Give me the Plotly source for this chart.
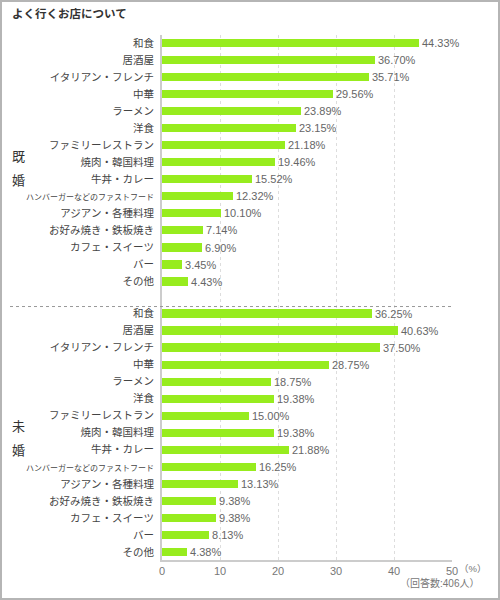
import plotly.graph_objects as go

categories = ["和食", "居酒屋", "イタリアン・フレンチ", "中華", "ラーメン", "洋食",
              "ファミリーレストラン", "焼肉・韓国料理", "牛丼・カレー",
              "ハンバーガーなどのファストフード", "アジアン・各種料理",
              "お好み焼き・鉄板焼き", "カフェ・スイーツ", "バー", "その他"]
married = [44.33, 36.70, 35.71, 29.56, 23.89, 23.15, 21.18, 19.46, 15.52,
           12.32, 10.10, 7.14, 6.90, 3.45, 4.43]
unmarried = [36.25, 40.63, 37.50, 28.75, 18.75, 19.38, 15.00, 19.38, 21.88,
             16.25, 13.13, 9.38, 9.38, 8.13, 4.38]
x_ticks = [0, 10, 20, 30, 40, 50]
title = "よく行くお店について"
group_labels = [["既", "婚"], ["未", "婚"]]
note = "（回答数:406人）"

GAP = 15.88
n = len(categories)
y1 = list(range(n))
y2 = [GAP + i for i in range(n)]

FONT = "Liberation Sans, Arial, Noto Sans CJK JP, sans-serif"
GREEN = "#97EC1E"

def lab(c):
    if len(c) > 12:
        return '<span style="font-size:8px">' + c + '</span>'
    return c

fig = go.Figure()
for ys, vals in [(y1, married), (y2, unmarried)]:
    fig.add_trace(go.Bar(
        x=vals, y=ys, orientation="h", width=0.48,
        marker=dict(color=GREEN, line=dict(width=0)),
        texttemplate="%{x:.2f}%", textposition="outside",
        constraintext="none",
        textfont=dict(size=11, color="#666666", family=FONT),
        cliponaxis=False, showlegend=False, hoverinfo="skip",
    ))

fig.update_layout(
    width=500, height=600,
    margin=dict(l=162, r=48, t=35, b=40, autoexpand=False),
    paper_bgcolor="white", plot_bgcolor="white",
    font=dict(family=FONT, size=10.5, color="#333333"),
    bargap=0,
)
fig.update_xaxes(
    range=[0, 50], tickvals=x_ticks, ticktext=[str(v) for v in x_ticks],
    showgrid=True, gridcolor="#dddddd", griddash="dot", gridwidth=1,
    zeroline=False, showline=True, linecolor="#cccccc", linewidth=2,
    tickfont=dict(size=11, color="#777777"), ticks="", automargin=False,
)
fig.update_yaxes(
    range=[GAP + n - 1 + 0.47, -0.47],
    tickvals=y1 + y2, ticktext=[lab(c) for c in categories] * 2,
    showgrid=False, zeroline=False, showline=True, linecolor="#cccccc",
    linewidth=2, ticks="", ticklabelstandoff=4, automargin=False,
    tickfont=dict(size=10.5, color="#444444"),
)

# title
fig.add_annotation(text="<b>" + title + "</b>", xref="paper", yref="paper",
                   x=-152 / 290, y=1 + 22 / 525, xanchor="left", yanchor="middle",
                   showarrow=False, font=dict(size=11.5, color="#333333"))
# group labels
for g, (a, b) in enumerate(group_labels):
    center = (0 if g == 0 else GAP) + 7.35
    for ch, off in [(a, -0.7), (b, 0.7)]:
        fig.add_annotation(text=ch, xref="paper", yref="y", x=-144 / 290,
                           y=center + off, xanchor="center", yanchor="middle",
                           showarrow=False, font=dict(size=13, color="#333333"))
# separator
fig.add_shape(type="line", xref="paper", yref="y", x0=-152 / 290, x1=1,
              y0=GAP - 0.41, y1=GAP - 0.41,
              line=dict(color="#999999", width=1, dash="dot"))
# units
fig.add_annotation(text="（%）", xref="paper", yref="paper", x=1 + 5 / 290,
                   y=-8 / 525, xanchor="left", yanchor="middle", showarrow=False,
                   font=dict(size=9.5, color="#777777"))
fig.add_annotation(text=note, xref="paper", yref="paper", x=1 + 29 / 290,
                   y=-23 / 525, xanchor="right", yanchor="middle", showarrow=False,
                   font=dict(size=10, color="#777777"))
# border
fig.add_shape(type="rect", xref="paper", yref="paper",
              x0=-161 / 290, x1=1 + 47 / 290, y0=-39 / 525, y1=1 + 34 / 525,
              line=dict(color="#b5b5b5", width=2), layer="below")

fig.write_html("out.html", config={"displayModeBar": False},
               post_script="document.body.style.margin='0';")
